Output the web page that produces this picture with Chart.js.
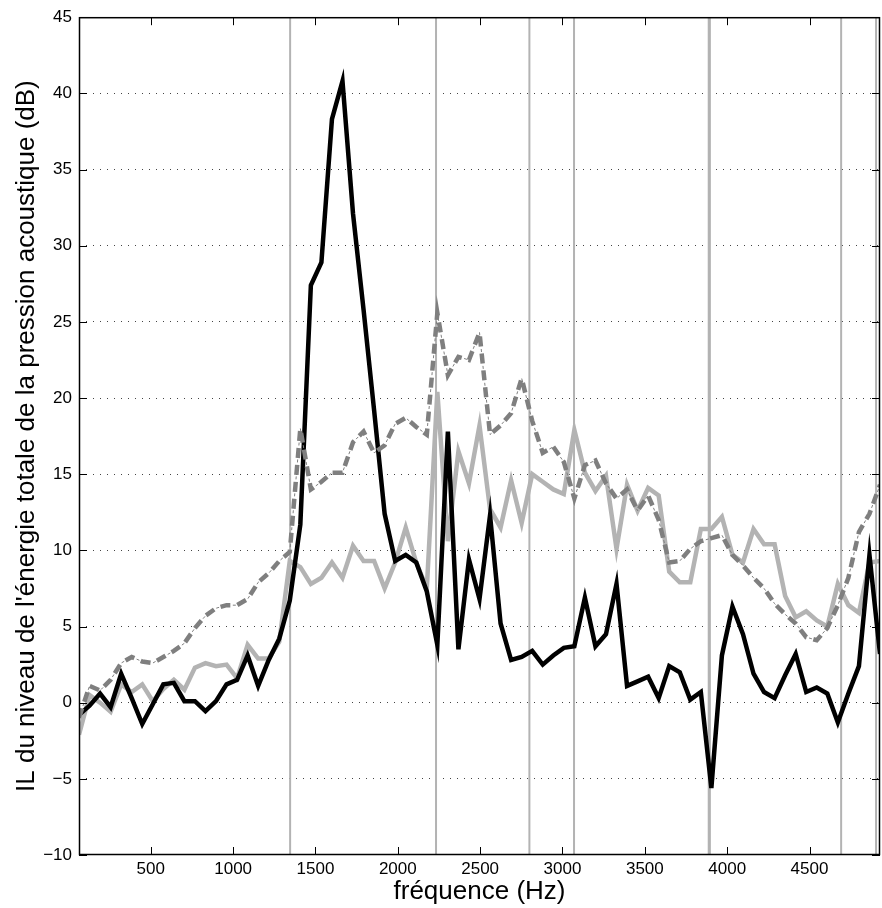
<!DOCTYPE html>
<html><head><meta charset="utf-8">
<script src="https://cdn.jsdelivr.net/npm/chart.js@4.4.0/dist/chart.umd.min.js"></script>
<style>html,body{margin:0;padding:0;background:#fff;} #wrap{width:882px;height:908px;}</style>
</head><body><div id="wrap"><canvas id="c" width="882" height="908"></canvas></div>
<script>
const freqs = [64,128,192,256,320,384,448,512,576,640,704,768,832,896,960,1024,1088,1152,1216,1280,
  1344,1408,1472,1536,1600,1664,1728,1792,1856,1920,1984,2048,2112,2176,2240,2304,2368,2432,2496,2560,
  2624,2688,2752,2816,2880,2944,3008,3072,3136,3200,3264,3328,3392,3456,3520,3584,3648,3712,3776,3840,
  3904,3968,4032,4096,4160,4224,4288,4352,4416,4480,4544,4608,4672,4736,4800,4864,4928];
const ilBlack = [-0.8,-0.2,0.6,-0.3,1.9,0.3,-1.4,-0.1,1.2,1.3,0.1,0.1,-0.55,0.1,1.2,1.5,3.1,1.1,2.8,4.2,
  6.7,11.7,27.4,28.9,38.3,40.8,32.1,25.8,19.2,12.4,9.3,9.7,9.2,7.3,3.8,17.8,3.5,9.4,6.8,12.3,
  5.2,2.8,3.0,3.4,2.5,3.1,3.6,3.7,6.9,3.7,4.5,7.8,1.1,1.4,1.7,0.3,2.4,2.0,0.2,0.7,
  -5.6,3.1,6.3,4.5,1.9,0.7,0.3,1.8,3.2,0.7,1.0,0.6,-1.3,0.6,2.4,9.7,3.2];
const ilLightGray = [-2.1,0.5,0.0,-0.6,1.2,0.7,1.2,0.1,0.9,1.5,0.85,2.3,2.6,2.4,2.5,1.6,3.8,2.9,2.9,4.0,
  9.3,8.9,7.8,8.2,9.2,8.2,10.3,9.3,9.3,7.5,9.2,11.5,9.2,7.5,20.4,10.6,16.5,14.4,18.2,12.7,
  11.5,14.6,11.8,15.0,14.5,14.0,13.7,17.9,15.1,13.9,14.9,10.1,14.3,12.6,14.1,13.6,8.6,7.9,7.9,11.4,
  11.4,12.2,9.7,9.2,11.4,10.4,10.4,7.0,5.6,6.0,5.4,5.0,7.8,6.4,5.9,9.2,9.3];
const ilDashDot = [-1.0,1.1,0.8,1.5,2.6,3.0,2.7,2.6,3.0,3.4,3.9,4.9,5.7,6.2,6.4,6.4,6.8,7.9,8.5,9.3,
  9.9,18.0,14.0,14.5,15.1,15.1,17.1,17.8,16.4,16.9,18.3,18.7,18.1,17.6,25.6,21.5,22.7,22.5,24.3,17.6,
  18.2,19.0,21.3,18.5,16.4,16.8,15.8,13.4,15.6,15.9,14.4,13.4,14.0,12.6,13.6,12.0,9.2,9.3,10.1,10.6,
  10.8,11.0,9.7,9.0,8.2,7.5,6.5,5.8,5.2,4.3,4.1,4.9,6.4,8.2,11.2,12.4,14.3];
const markerFreqs = [1346,2232,2799,3070,3888,3895,4692,4904];
const xTicks = [500,1000,1500,2000,2500,3000,3500,4000,4500];
const yTicks = [-10,-5,0,5,10,15,20,25,30,35,40,45];
const xLimits = [64,4928];
const yLimits = [-10,45];
const xTitle = 'fréquence (Hz)';
const yTitle = "IL du niveau de l'énergie totale de la pression acoustique (dB)";

const FONT = "'Liberation Sans', Arial, Helvetica, sans-serif";
function pts(vals){ return freqs.map((f,i)=>({x:f,y:vals[i]})); }
function fmt(v){ return v < 0 ? '\u2212' + Math.abs(v) : String(v); }

const datasets = [
  {data: pts(ilDashDot), borderColor:'#7f7f7f', borderWidth:4.5, borderDash:[10,7], order:1},
  {data: pts(ilDashDot), borderColor:'#7f7f7f', borderWidth:1, borderDash:[3,14], borderDashOffset:4.5, order:2},
  {data: pts(ilBlack), borderColor:'#000000', borderWidth:4.5, order:3},
  {data: pts(ilLightGray), borderColor:'#b3b3b3', borderWidth:4.5, order:4}
];
markerFreqs.forEach(f=>{
  datasets.push({data:[{x:f,y:yLimits[0]},{x:f,y:yLimits[1]}], borderColor:'#b3b3b3', borderWidth:2, order:10});
});
datasets.forEach(d=>{ d.pointRadius=0; d.fill=false; d.tension=0; d.borderCapStyle='butt'; d.borderJoinStyle='miter'; });

const framePlugin = {
  id:'frame',
  afterDatasetsDraw(chart){
    const {ctx, chartArea:a, scales:{x, y}} = chart;
    ctx.save();
    ctx.strokeStyle='#000'; ctx.lineWidth=1; ctx.setLineDash([]);
    const L=8;
    ctx.beginPath();
    x.ticks.forEach(t=>{ const px=Math.round(x.getPixelForValue(t.value))+0.5;
      ctx.moveTo(px,a.bottom); ctx.lineTo(px,a.bottom-L);
      ctx.moveTo(px,a.top); ctx.lineTo(px,a.top+L); });
    y.ticks.forEach(t=>{ const py=Math.round(y.getPixelForValue(t.value))+0.5;
      ctx.moveTo(a.left,py); ctx.lineTo(a.left+L,py);
      ctx.moveTo(a.right,py); ctx.lineTo(a.right-L,py); });
    ctx.stroke();
    ctx.lineWidth=1.5;
    ctx.strokeRect(a.left+0.5,a.top+0.5,a.right-a.left-1,a.bottom-a.top-1);
    ctx.restore();
  }
};

new Chart(document.getElementById('c'), {
  type:'line',
  data:{datasets},
  options:{
    responsive:false, animation:false, devicePixelRatio:1,
    layout:{padding:{top:15,right:2,bottom:0,left:0}},
    plugins:{legend:{display:false}, tooltip:{enabled:false}},
    scales:{
      x:{type:'linear', min:xLimits[0], max:xLimits[1],
        afterBuildTicks:s=>{ s.ticks = xTicks.map(v=>({value:v})); },
        afterFit:s=>{ s.height = 53; },
        grid:{display:false, drawTicks:false},
        border:{display:false},
        ticks:{color:'#000', font:{family:FONT, size:17}, padding:4, maxRotation:0, autoSkip:false, callback:v=>fmt(v)},
        title:{display:true, text:xTitle, color:'#000', font:{family:FONT, size:26}, padding:{top:0,bottom:1}}
      },
      y:{type:'linear', min:yLimits[0], max:yLimits[1],
        afterBuildTicks:s=>{ s.ticks = yTicks.map(v=>({value:v})); },
        afterFit:s=>{ s.width = 79; },
        grid:{drawTicks:false, lineWidth:1,
          color:c=> (c.tick && (c.tick.value===yLimits[0]||c.tick.value===yLimits[1])) ? 'rgba(0,0,0,0)' : '#444'},
        border:{display:false, dash:[1,6]},
        ticks:{color:'#000', font:{family:FONT, size:17}, padding:7, autoSkip:false, callback:v=>fmt(v)},
        title:{display:true, text:yTitle, color:'#000', font:{family:FONT, size:26}, padding:{top:11,bottom:0}}
      }
    }
  },
  plugins:[framePlugin]
});
</script></body></html>
